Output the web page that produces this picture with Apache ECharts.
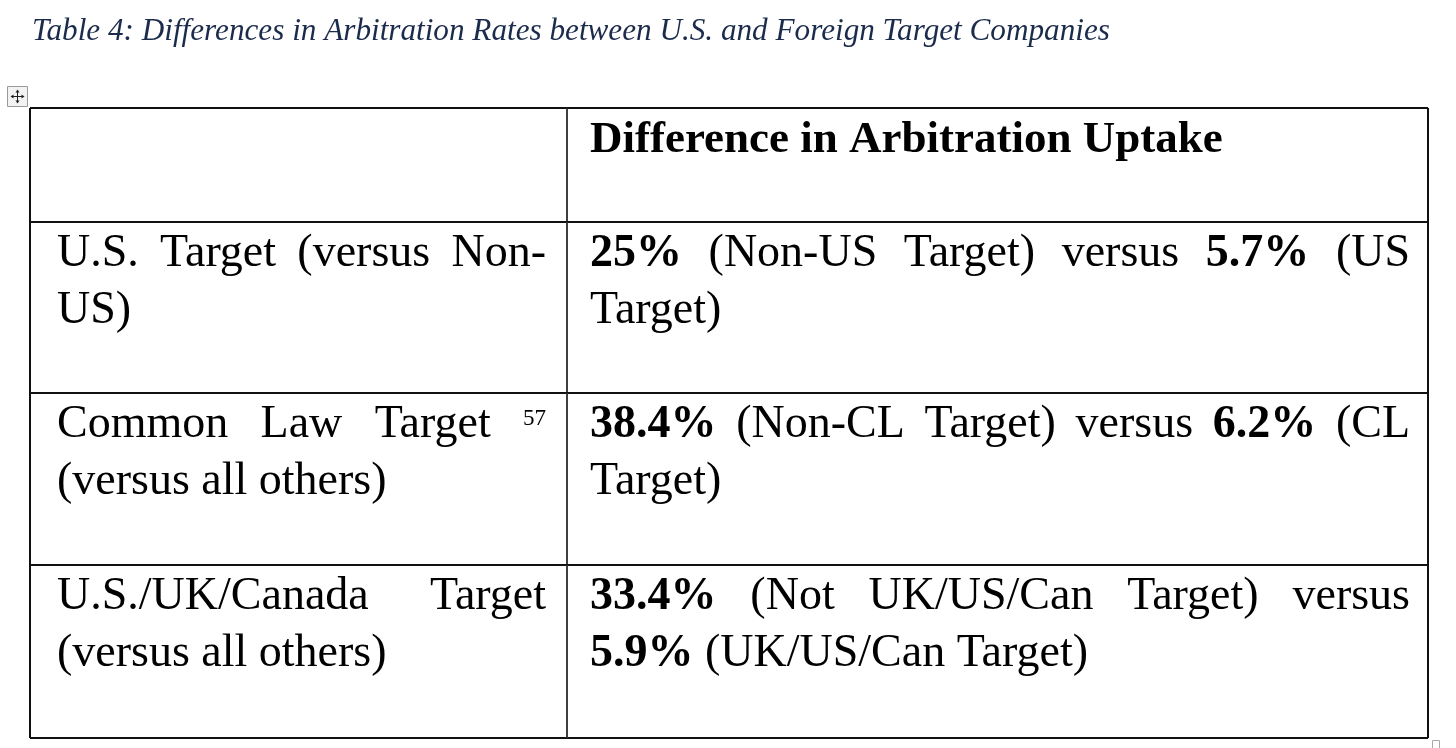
<!DOCTYPE html>
<html>
<head>
<meta charset="utf-8">
<title>Table 4</title>
<script src="https://cdn.jsdelivr.net/npm/echarts@6.0.0/dist/echarts.min.js"></script>
<style>
	html, body { margin: 0; padding: 0; background: #fff; }
	#main { width: 1456px; height: 748px; }
</style>
</head>
<body>
<div id="main"></div>
<script>
var titleText = 'Table 4: Differences in Arbitration Rates between U.S. and Foreign Target Companies';
var headerText = 'Difference in Arbitration Uptake';
var rowLabels = ['U.S. Target (versus Non-US)', 'Common Law Target', 'U.S./UK/Canada Target (versus all others)'];
var rowLabelTails = ['', '(versus all others)', ''];
var footnotes = ['', '57', ''];
var otherGroups = ['Non-US Target', 'Non-CL Target', 'Not UK/US/Can Target'];
var otherRates = [25, 38.4, 33.4];
var targetGroups = ['US Target', 'CL Target', 'UK/US/Can Target'];
var targetRates = [5.7, 6.2, 5.9];

//表格布局 (px)
var tableLeft = 30, tableTop = 108, tableWidth = 1398, tableHeight = 630;
var colEdges = [0, 537, 1398];
var rowEdges = [0, 114, 285, 457, 630];
var padLeft = [27, 23], padRight = [21, 18];
var firstBaseline = 48, lineStep = 57;
var bodySize = 46, headSize = 45;
var FONT = '"Liberation Serif", "Times New Roman", serif';

var measureCtx = document.createElement('canvas').getContext('2d');
function textWidth(t, size, bold, italic) {
	measureCtx.font = (italic ? 'italic ' : '') + (bold ? 'bold ' : '') + size + 'px ' + FONT;
	return measureCtx.measureText(t).width;
}

//标题字号按原图宽度
var titleSize = Math.round(1080 / textWidth(titleText, 1, false, true) * 10) / 10;

//单元格内容
function cellRuns(c, r) {
	if(r === 0) {
		return c === 0 ? [] : [{ t: headerText, b: true }];
	}
	var i = r - 1;
	if(c === 0) {
		var runs = [{ t: rowLabels[i] }];
		if(footnotes[i]) runs.push({ t: ' ' + footnotes[i], sup: true });
		if(rowLabelTails[i]) runs.push({ t: ' ' + rowLabelTails[i] });
		return runs;
	}
	return [
		{ t: otherRates[i] + '%', b: true },
		{ t: ' (' + otherGroups[i] + ') versus ' },
		{ t: targetRates[i] + '%', b: true },
		{ t: ' (' + targetGroups[i] + ')' }
	];
}

//拆词, 空格和连字符后可换行
function tokenize(runs, size) {
	var pieces = [];
	var pending = false;
	runs.forEach(function(run) {
		var parts = run.t.split(' ');
		parts.forEach(function(p, k) {
			if(k > 0) pending = true;
			if(p === '') return;
			var subs = p.split(/(?<=-)/);
			subs.forEach(function(s, j) {
				var fs = run.sup ? Math.round(size * 0.5) : size;
				pieces.push({
					t: s,
					b: !!run.b,
					sup: !!run.sup,
					size: fs,
					space: j === 0 ? pending : false,
					brk: j === 0 ? pending : true,
					w: textWidth(s, fs, run.b)
				});
				pending = false;
			});
		});
	});
	return pieces;
}

function layoutLines(pieces, maxW, size) {
	var spaceW = textWidth(' ', size, false);
	var lines = [];
	var cur = [], curW = 0;
	pieces.forEach(function(p) {
		var gap = p.space ? spaceW : 0;
		if(cur.length && p.brk && curW + gap + p.w > maxW) {
			lines.push({ items: cur, w: curW });
			cur = [];
			curW = 0;
		}
		if(!cur.length) gap = 0;
		cur.push({ p: p, gap: gap });
		curW += gap + p.w;
	});
	if(cur.length) lines.push({ items: cur, w: curW });
	return lines;
}

function renderCell(params, api) {
	var c = api.value(0), r = api.value(1);
	var p0 = api.coord([colEdges[c], rowEdges[r]]);
	var p1 = api.coord([colEdges[c + 1], rowEdges[r + 1]]);
	var children = [];
	var lineColor = '#111';
	//边框
	children.push({ type: 'line', shape: { x1: p0[0], y1: p0[1], x2: p1[0], y2: p0[1] }, style: { stroke: lineColor, lineWidth: 2 } });
	children.push({ type: 'line', shape: { x1: p0[0], y1: p1[1], x2: p1[0], y2: p1[1] }, style: { stroke: lineColor, lineWidth: 2 } });
	children.push({ type: 'line', shape: { x1: p0[0], y1: p0[1], x2: p0[0], y2: p1[1] }, style: { stroke: c === 0 ? lineColor : '#333', lineWidth: c === 0 ? 2 : 1.5 } });
	children.push({ type: 'line', shape: { x1: p1[0], y1: p0[1], x2: p1[0], y2: p1[1] }, style: { stroke: c === 1 ? lineColor : '#333', lineWidth: c === 1 ? 2 : 1.5 } });

	var size = r === 0 ? headSize : bodySize;
	var x0 = p0[0] + padLeft[c];
	var maxW = p1[0] - padRight[c] - x0;
	var lines = layoutLines(tokenize(cellRuns(c, r), size), maxW, size);
	lines.forEach(function(line, li) {
		var isLast = li === lines.length - 1;
		var nGaps = 0;
		line.items.forEach(function(it, k) {
			if(k > 0 && it.gap > 0) nGaps++;
		});
		var extra = (!isLast && nGaps) ? (maxW - line.w) / nGaps : 0;
		var baseY = p0[1] + firstBaseline + li * lineStep;
		var x = x0;
		line.items.forEach(function(it, k) {
			if(k > 0) x += it.gap + (it.gap > 0 ? extra : 0);
			var p = it.p;
			var by = p.sup ? baseY - size * 0.32 : baseY;
			children.push({
				type: 'text',
				x: x,
				y: by - p.size * 0.34,
				style: {
					text: p.t,
					fontFamily: FONT,
					fontSize: p.size,
					fontWeight: p.b ? 'bold' : 'normal',
					fill: '#000',
					align: 'left',
					verticalAlign: 'middle'
				}
			});
			x += p.w;
		});
	});
	return { type: 'group', children: children };
}

var cells = [];
for(var r = 0; r < rowEdges.length - 1; r++) {
	for(var c = 0; c < colEdges.length - 1; c++) {
		cells.push([c, r]);
	}
}

var chart = echarts.init(document.getElementById('main'));
chart.setOption({
	animation: false,
	backgroundColor: '#fff',
	title: {
		text: titleText,
		left: 32,
		top: 16,
		padding: 0,
		textStyle: {
			fontFamily: FONT,
			fontStyle: 'italic',
			fontWeight: 'normal',
			fontSize: titleSize,
			color: '#1b2b4b'
		}
	},
	grid: {
		left: tableLeft,
		top: tableTop,
		width: tableWidth,
		height: tableHeight
	},
	xAxis: { type: 'value', min: 0, max: tableWidth, show: false },
	yAxis: { type: 'value', min: 0, max: tableHeight, inverse: true, show: false },
	graphic: [
		//左上角移动图标
		{
			type: 'group',
			left: tableLeft - 23,
			top: tableTop - 22,
			children: [
				{ type: 'rect', shape: { x: 0, y: 0, width: 20, height: 20 }, style: { fill: '#f3f3f3', stroke: '#9a9a9a', lineWidth: 1 } },
				{ type: 'line', shape: { x1: 4, y1: 10, x2: 16, y2: 10 }, style: { stroke: '#222', lineWidth: 1 } },
				{ type: 'line', shape: { x1: 10, y1: 4, x2: 10, y2: 16 }, style: { stroke: '#222', lineWidth: 1 } },
				{ type: 'polygon', shape: { points: [[3, 10], [6, 8], [6, 12]] }, style: { fill: '#222' } },
				{ type: 'polygon', shape: { points: [[17, 10], [14, 8], [14, 12]] }, style: { fill: '#222' } },
				{ type: 'polygon', shape: { points: [[10, 3], [8, 6], [12, 6]] }, style: { fill: '#222' } },
				{ type: 'polygon', shape: { points: [[10, 17], [8, 14], [12, 14]] }, style: { fill: '#222' } }
			]
		},
		//右下角小方块
		{
			type: 'rect',
			left: tableLeft + tableWidth + 4,
			top: tableTop + tableHeight + 2,
			shape: { x: 0, y: 0, width: 7, height: 9 },
			style: { fill: '#fff', stroke: '#aaa', lineWidth: 1 }
		}
	],
	series: [{
		type: 'custom',
		silent: true,
		renderItem: renderCell,
		data: cells
	}]
});
</script>
</body>
</html>
